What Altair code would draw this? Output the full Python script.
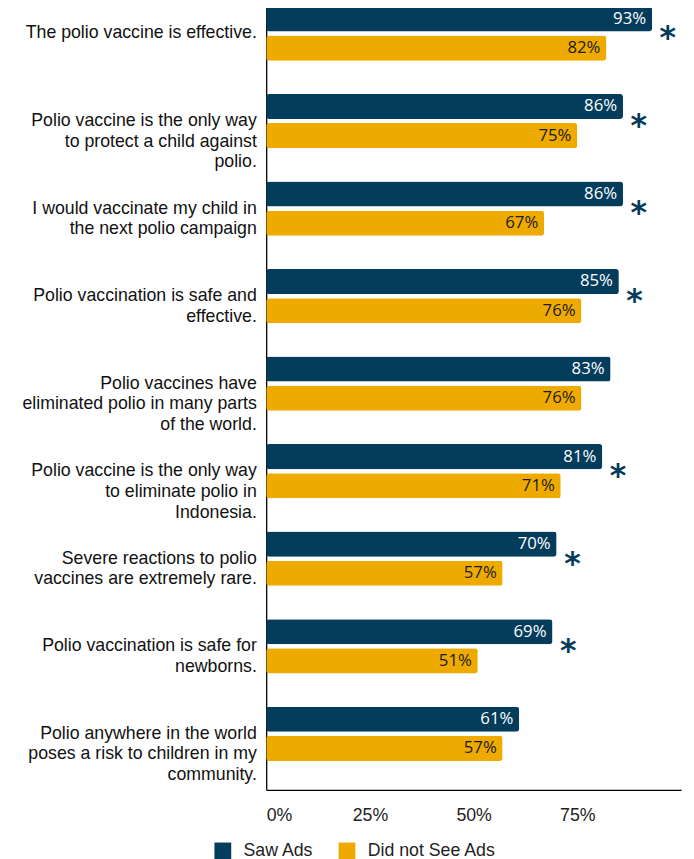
import altair as alt
import pandas as pd

statements = [
    "The polio vaccine is effective.",
    "Polio vaccine is the only way\nto protect a child against\npolio.",
    "I would vaccinate my child in\nthe next polio campaign",
    "Polio vaccination is safe and\neffective.",
    "Polio vaccines have\neliminated polio in many parts\nof the world.",
    "Polio vaccine is the only way\nto eliminate polio in\nIndonesia.",
    "Severe reactions to polio\nvaccines are extremely rare.",
    "Polio vaccination is safe for\nnewborns.",
    "Polio anywhere in the world\nposes a risk to children in my\ncommunity.",
]
saw_ads = [0.93, 0.86, 0.86, 0.85, 0.83, 0.81, 0.70, 0.69, 0.61]
not_seen = [0.82, 0.75, 0.67, 0.76, 0.76, 0.71, 0.57, 0.51, 0.57]
significant = [True, True, True, True, False, True, True, True, False]
groups = ["Saw Ads", "Did not See Ads"]
colors = ["#043c5c", "#efaa00"]

rows = []
for s, a, b in zip(statements, saw_ads, not_seen):
    rows.append({"statement": s, "group": groups[0], "value": a})
    rows.append({"statement": s, "group": groups[1], "value": b})
df = pd.DataFrame(rows)

stars = pd.DataFrame({
    "statement": [s for s, f in zip(statements, significant) if f],
    "value": [v for v, f in zip(saw_ads, significant) if f],
})

y_enc = alt.Y(
    "statement:N",
    sort=statements,
    scale=alt.Scale(paddingInner=0.38, paddingOuter=0.165, align=0),
    axis=alt.Axis(
        title=None,
        labelExpr="split(datum.label, '\\n')",
        labelFontSize=18,
        labelFont="Liberation Sans",
        labelColor="#111111",
        labelLineHeight=21,
        labelPadding=10,
        ticks=False,
        domainColor="#000000",
        domainWidth=1.3,
        labelLimit=400,
    ),
)
x_enc = alt.X(
    "value:Q",
    scale=alt.Scale(domain=[0, 1], nice=False),
    axis=alt.Axis(
        title=None,
        values=[0, 0.25, 0.5, 0.75],
        format=".0%",
        labelFontSize=18,
        labelFont="Liberation Sans",
        labelColor="#222222",
        labelPadding=17,
        ticks=False,
        grid=False,
        domainColor="#000000",
        domainWidth=1.3,
    ),
)
yoff = alt.YOffset("group:N", sort=groups, scale=alt.Scale(paddingInner=0.14, paddingOuter=0))

bars = alt.Chart(df).mark_bar(cornerRadius=3).encode(
    y=y_enc,
    x=x_enc,
    yOffset=yoff,
    color=alt.Color(
        "group:N",
        sort=groups,
        scale=alt.Scale(domain=groups, range=colors),
        legend=alt.Legend(
            title=None,
            orient="none",
            legendX=-53,
            legendY=848,
            direction="horizontal",
            symbolType="square",
            symbolSize=290,
            symbolStrokeWidth=0,
            labelFontSize=18,
            labelFont="Liberation Sans",
            labelColor="#222222",
            labelOffset=12,
            columnPadding=24,
        ),
    ),
)

labels = alt.Chart(df).mark_text(
    align="right", baseline="middle", dx=-6, fontSize=17, font="Open Sans"
).encode(
    y=alt.Y("statement:N", sort=statements),
    x="value:Q",
    yOffset=alt.YOffset("group:N", sort=groups),
    text=alt.Text("value:Q", format=".0%"),
    color=alt.condition("datum.group == 'Saw Ads'", alt.value("#ffffff"), alt.value("#1a1a1a")),
)

star_layer = alt.Chart(stars).mark_text(
    align="center", baseline="middle", dx=16, dy=5, fontSize=32, font="DejaVu Sans", fontWeight="bold", color="#043c5c"
).encode(
    y=alt.Y("statement:N", sort=statements),
    x="value:Q",
    text=alt.value("*"),
)

chart = alt.layer(bars, labels, star_layer).properties(
    width=421,
    height=795,
    padding={"left": 13, "top": -8, "right": 5, "bottom": 5},
).configure_view(stroke=None)

chart.save("out.html", embed_options={"renderer": "svg", "actions": False})
